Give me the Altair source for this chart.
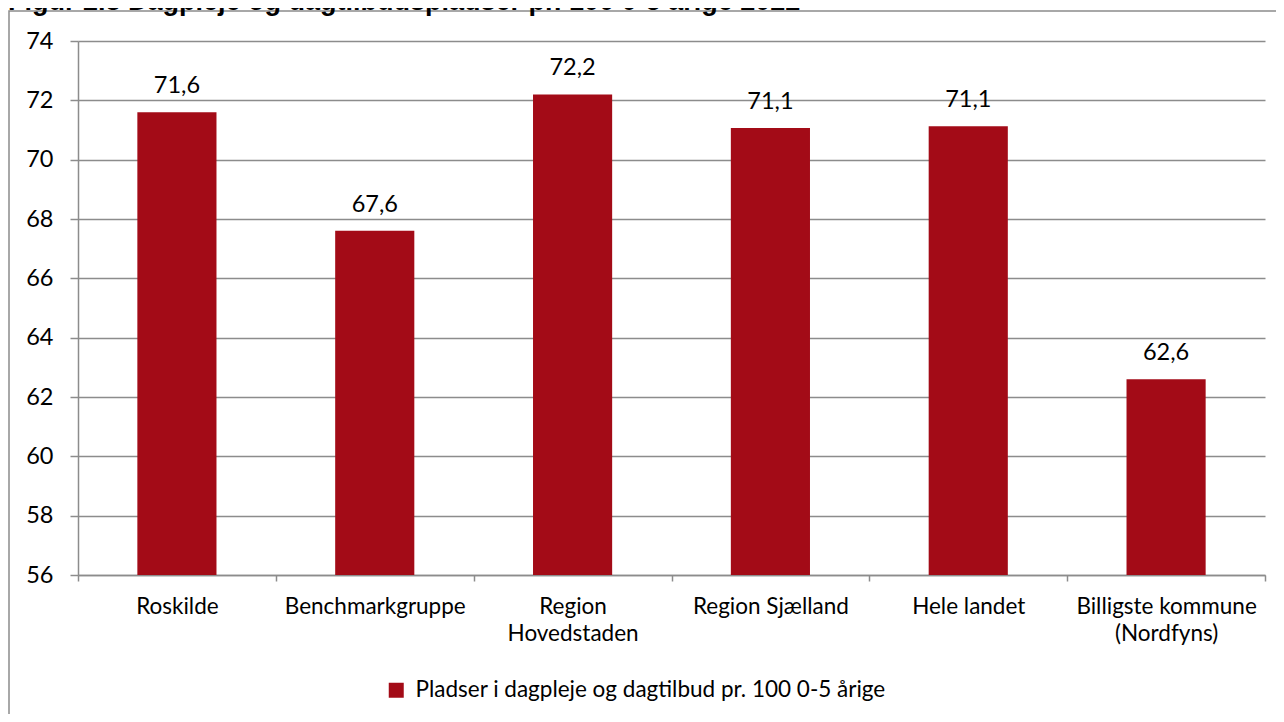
import altair as alt
import pandas as pd

categories = ["Roskilde", "Benchmarkgruppe", "Region|Hovedstaden", "Region Sjælland",
              "Hele landet", "Billigste kommune|(Nordfyns)"]
values = [71.6, 67.6, 72.2, 71.07, 71.13, 62.6]
labels = ["71,6", "67,6", "72,2", "71,1", "71,1", "62,6"]
series_name = "Pladser i dagpleje og dagtilbud pr. 100 0-5 årige"
y_ticks = [56, 58, 60, 62, 64, 66, 68, 70, 72, 74]
title_text = "Figur 2.8 Dagpleje og dagtilbudspladser pr. 100 0-5 årige 2022"

df = pd.DataFrame({"cat": categories, "value": values, "label": labels,
                   "series": [series_name] * len(categories)})

FONT = "Lato"
FS_TXT = 22.5
FS_NUM = 23.5
GRAY = "#8c8c8c"
RED = "#a30b17"

x_enc = alt.X("cat:N", sort=categories, title=None,
              scale=alt.Scale(paddingInner=0, paddingOuter=0),
              axis=alt.Axis(labelAngle=0, tickBand="extent", labelExpr="split(datum.label, '|')",
                            labelFont=FONT, labelFontSize=FS_TXT, labelColor="#000000",
                            labelPadding=14, labelLineHeight=27, tickSize=6,
                            tickColor=GRAY, domainColor=GRAY, tickWidth=1.5, domainWidth=1.5,
                            labelBaseline="top", labelLimit=0))
y_enc = alt.Y("value:Q", title=None,
              scale=alt.Scale(domain=[56, 74], nice=False, zero=False),
              axis=alt.Axis(values=y_ticks, grid=True, gridColor=GRAY, gridWidth=1.5,
                            tickSize=8, tickColor=GRAY, tickWidth=1.5, domainColor=GRAY,
                            domainWidth=1.5, labelFont=FONT, labelFontSize=FS_NUM,
                            labelColor="#000000", labelPadding=17))

bars = alt.Chart(df).mark_bar(width=alt.RelativeBandSize(0.4), clip=True).encode(
    x=x_enc, y=y_enc,
    color=alt.Color("series:N", scale=alt.Scale(range=[RED]),
                    legend=alt.Legend(title=None, orient="none", legendX=307, legendY=638,
                                      symbolType="square", symbolSize=225,
                                      symbolStrokeWidth=0, labelFont=FONT,
                                      labelFontSize=FS_TXT, labelColor="#000000",
                                      labelOffset=8, symbolOpacity=1, labelLimit=0)),
)

text = alt.Chart(df).mark_text(font=FONT, fontSize=FS_NUM, color="#000000", dy=-19,
                               baseline="alphabetic").encode(
    x=alt.X("cat:N", sort=categories), y="value:Q", text="label:N")

frame_df = pd.DataFrame({"t": [title_text]})
frame = alt.Chart(frame_df).mark_rect(fill=None, stroke=GRAY, strokeWidth=1.5).encode(
    x=alt.value(-69), x2=alt.value(1230), y=alt.value(-30), y2=alt.value(720))
title = alt.Chart(frame_df).mark_text(font="Liberation Sans", fontWeight="bold", fontSize=27,
                                      align="left", baseline="alphabetic", color="#000000").encode(
    x=alt.value(-70), y=alt.value(-31), text="t:N")

chart = alt.layer(frame, bars, text, title).properties(
    width=1187, height=534,
    padding={"left": 70, "top": 33, "right": 11, "bottom": 139},
    autosize=alt.AutoSizeParams(type="none"),
).configure_view(stroke=None)

chart.save("out.html", embed_options={"renderer": "svg", "actions": False})
